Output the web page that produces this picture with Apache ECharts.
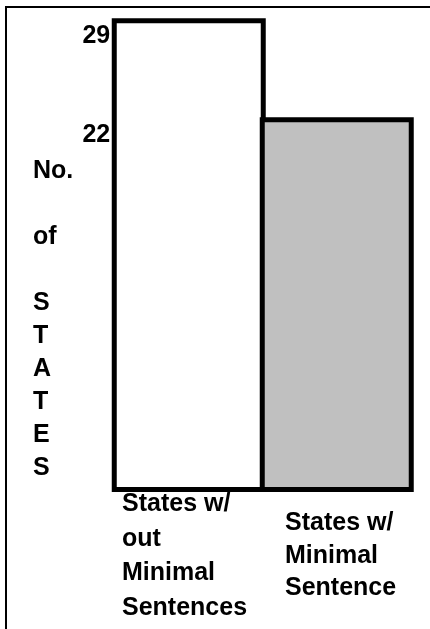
<!DOCTYPE html>
<html>
<head>
<meta charset="utf-8">
<script src="https://cdn.jsdelivr.net/npm/echarts@6/dist/echarts.min.js"></script>
<style>
html,body{margin:0;padding:0;background:#fff;}
#chart{width:430px;height:629px;}
</style>
</head>
<body>
<div id="chart"></div>
<script>
var categories = ['States w/\nout\nMinimal\nSentences', 'States w/\nMinimal\nSentence'];
var values = [29, 22];
var barColors = ['#ffffff', '#c0c0c0'];
var tickValues = [29, 22];
var yTitle = 'No.\n\nof\n\nS\nT\nA\nT\nE\nS';

var FONT = '"Liberation Sans", Arial, sans-serif';
var chart = echarts.init(document.getElementById('chart'), null, {renderer: 'canvas'});
chart.setOption({
  animation: false,
  backgroundColor: '#ffffff',
  grid: {left: 114.25, top: 18.3, width: 297, height: 473.7, containLabel: false},
  graphic: [{
    type: 'polyline',
    shape: {points: [[6, 629], [6, 7], [430, 7]]},
    style: {stroke: '#000', lineWidth: 2, fill: null},
    silent: true
  }, {
    type: 'text',
    x: 33,
    y: 154.5,
    silent: true,
    style: {
      text: yTitle,
      fontFamily: FONT,
      fontWeight: 'bold',
      fontSize: 25,
      lineHeight: 33,
      fill: '#000',
      align: 'left',
      verticalAlign: 'top'
    }
  }],
  xAxis: {
    type: 'category',
    data: categories,
    axisLine: {show: false},
    axisTick: {show: false},
    axisLabel: {
      interval: 0,
      margin: 64,
      verticalAlign: 'middle',
      formatter: function (v, i) {
        var k = i === 0 ? 'a' : 'b';
        return v.split('\n').map(function (s) { return '{' + k + '|' + s + '}'; }).join('\n');
      },
      rich: {
        a: {width: 133, align: 'left', fontFamily: FONT, fontWeight: 'bold', fontSize: 25, lineHeight: 34.5, color: '#000'},
        b: {width: 104, align: 'left', fontFamily: FONT, fontWeight: 'bold', fontSize: 25, lineHeight: 32.5, color: '#000'}
      }
    }
  },
  yAxis: {
    type: 'value',
    min: -4.5,
    max: 29,
    startValue: -4.5,
    splitLine: {show: false},
    axisLine: {show: false},
    axisTick: {show: false},
    axisLabel: {
      customValues: tickValues,
      margin: 4,
      verticalAlign: 'top',
      padding: [5.5, 0, 0, 0],
      fontFamily: FONT,
      fontWeight: 'bold',
      fontSize: 25,
      lineHeight: 25,
      color: '#000'
    }
  },
  series: [{
    type: 'bar',
    barWidth: 154.5,
    data: values.map(function (v, i) {
      return {value: v, itemStyle: {color: barColors[i]}};
    }),
    itemStyle: {borderColor: '#000', borderWidth: 5},
    label: {show: false}
  }]
});
</script>
</body>
</html>
